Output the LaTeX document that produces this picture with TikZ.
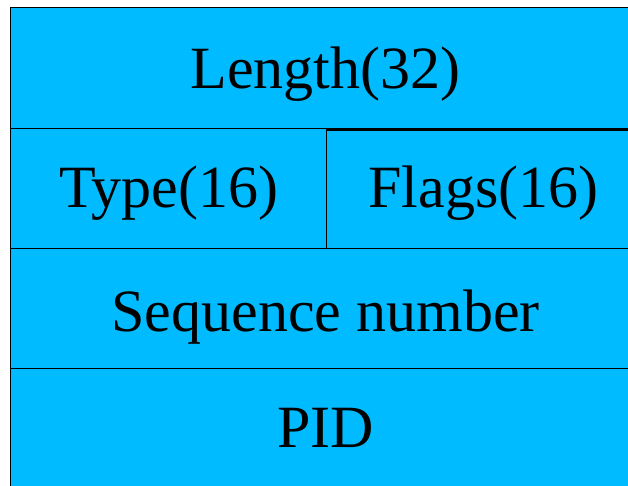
\documentclass[tikz,border=0pt]{standalone}
\usepackage{fontspec}
\setmainfont{Liberation Serif}
\usetikzlibrary{positioning}

\definecolor{fieldblue}{RGB}{0,187,255}

\tikzset{
  field/.style={draw, fill=fieldblue, line width=1.2pt, rectangle,
    inner sep=0pt, anchor=north west, text depth=0pt,
    font=\fontsize{60}{72}\selectfont},
}

\begin{document}
\begin{tikzpicture}[x=1pt, y=-1pt]
        \useasboundingbox (0,0) rectangle (628,486);
        \clip (0,0) rectangle (628,486);

        % header fields, one box per row
        \node[field, minimum width=630pt, minimum height=121pt, text height=41pt] (len) at (10,7) {Length(32)};
        \node[field, minimum width=316pt, minimum height=120pt, text height=38pt] (type) at (10,128) {Type(16)};
        \node[field, minimum width=314pt, minimum height=118.5pt, text height=36.5pt] (flags) at (326,129.5) {Flags(16)};
        \node[field, minimum width=630pt, minimum height=120pt, text height=46pt] (seq) at (10,248) {Sequence number};
        \node[field, minimum width=630pt, minimum height=124pt, text height=34pt] (pid) at (10,368) {PID};
      \end{tikzpicture}
\end{document}
